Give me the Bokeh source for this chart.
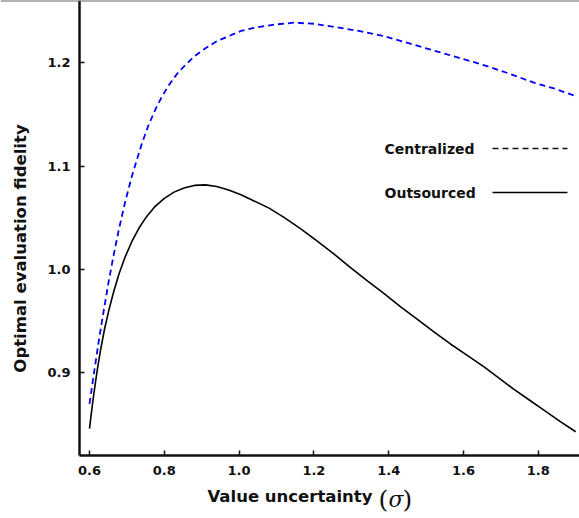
from bokeh.plotting import figure
from bokeh.models import ColumnDataSource, FixedTicker, PrintfTickFormatter, Label, Span, Arrow
from bokeh.embed import file_html
from bokeh.resources import INLINE

# Optimal evaluation fidelity as a function of value uncertainty (sigma)
sigma_outsourced = [0.600, 0.606, 0.612, 0.620, 0.629, 0.640, 0.652, 0.665, 0.679, 0.695,
                    0.713, 0.732, 0.752, 0.775, 0.800, 0.826, 0.853, 0.880, 0.910, 0.940,
                    0.972, 1.005, 1.040, 1.080, 1.120, 1.165, 1.209, 1.254, 1.298, 1.343,
                    1.387, 1.432, 1.476, 1.520, 1.565, 1.610, 1.654, 1.695, 1.735, 1.775,
                    1.815, 1.858, 1.900]
fidelity_outsourced = [0.846, 0.864, 0.881, 0.901, 0.921, 0.942, 0.961, 0.979, 0.996, 1.012,
                       1.027, 1.040, 1.051, 1.061, 1.069, 1.075, 1.079, 1.0815, 1.082, 1.0805,
                       1.077, 1.0725, 1.0665, 1.0595, 1.0505, 1.0395, 1.0275, 1.015, 1.002, 0.989,
                       0.977, 0.964, 0.952, 0.940, 0.928, 0.917, 0.906, 0.895, 0.884, 0.874,
                       0.864, 0.853, 0.843]

sigma_centralized = [0.600, 0.612, 0.624, 0.637, 0.651, 0.664, 0.678, 0.695, 0.713, 0.740,
                     0.757, 0.776, 0.793, 0.811, 0.833, 0.856, 0.882, 0.909, 0.940, 0.972,
                     1.005, 1.040, 1.090, 1.146, 1.200, 1.253, 1.320, 1.387, 1.455, 1.521,
                     1.588, 1.654, 1.720, 1.788, 1.845, 1.900]
fidelity_centralized = [0.870, 0.900, 0.929, 0.958, 0.988, 1.013, 1.038, 1.065, 1.090, 1.122,
                        1.139, 1.155, 1.167, 1.178, 1.189, 1.198, 1.207, 1.214, 1.221, 1.226,
                        1.231, 1.234, 1.237, 1.239, 1.238, 1.235, 1.231, 1.226, 1.219, 1.212,
                        1.205, 1.198, 1.190, 1.181, 1.175, 1.168]

x_ticks = [0.6, 0.8, 1.0, 1.2, 1.4, 1.6, 1.8]
y_ticks = [0.9, 1.0, 1.1, 1.2]

series_names = ["Centralized", "Outsourced"]

FONT = "DejaVu Sans"

# axes box corners (data units); the frame covers the whole canvas so the
# axis titles can sit outside the box as ordinary labels
X0, X1 = 0.57326, 1.91016
Y0, Y1 = 0.82003, 1.2605

p = figure(width=579, height=518, output_backend="svg", toolbar_location=None,
           x_range=(0.36203, X1), y_range=(0.75905, Y1),
           min_border=0, min_border_left=0, min_border_right=0,
           min_border_top=0, min_border_bottom=0)
p.grid.visible = False
p.outline_line_color = None
p.background_fill_color = "white"
p.border_fill_color = "white"

src_c = ColumnDataSource(dict(x=sigma_centralized, y=fidelity_centralized))
src_o = ColumnDataSource(dict(x=sigma_outsourced, y=fidelity_outsourced))
p.line("x", "y", source=src_c, line_color="#0000ff", line_width=1.8, line_dash="6 4",
       line_join="round")
p.line("x", "y", source=src_o, line_color="black", line_width=1.6, line_join="round")

p.xaxis.fixed_location = Y0
p.yaxis.fixed_location = X0
p.xaxis.bounds = (X0, X1)
p.yaxis.bounds = (Y0, Y1)

for ax in (p.xaxis[0], p.yaxis[0]):
    ax.axis_line_width = 2.5
    ax.axis_line_color = "#111111"
    ax.major_tick_in = 5
    ax.major_tick_out = 0
    ax.major_tick_line_width = 1.5
    ax.major_tick_line_color = "#111111"
    ax.minor_tick_line_color = None
    ax.major_label_text_font = FONT
    ax.major_label_text_font_style = "bold"
    ax.major_label_text_font_size = "13px"
    ax.major_label_text_color = "#111111"
    ax.formatter = PrintfTickFormatter(format="%.1f")

p.xaxis.ticker = FixedTicker(ticks=x_ticks)
p.yaxis.ticker = FixedTicker(ticks=y_ticks)
p.xaxis.major_label_standoff = 10
p.yaxis.major_label_standoff = 9

# thin edge along the top
p.add_layout(Span(location=Y1, dimension="width", line_color="#666666", line_width=2))

# axis titles
p.add_layout(Label(x=0.41551, y=1.02042, text="Optimal evaluation fidelity", angle=1.5708,
                   text_font=FONT, text_font_style="bold", text_font_size="16.5px",
                   text_align="center", text_baseline="middle", text_color="#111111"))
p.add_layout(Label(x=0.91551, y=0.78035, text="Value uncertainty",
                   text_font=FONT, text_font_style="bold", text_font_size="16.5px",
                   text_align="left", text_baseline="middle", text_color="#111111"))
# "(σ)": upright parentheses around an italic sigma
for txt, lx, style, size in [("(", 1.37273, "normal", "25px"),
                             ("σ", 1.39947, "italic", "22px"),
                             (")", 1.43690, "normal", "25px")]:
    p.add_layout(Label(x=lx, y=0.77744, text=txt, text_font="DejaVu Serif",
                       text_font_style=style, text_font_size=size,
                       text_align="left", text_baseline="middle", text_color="#111111"))

# legend: label on the left, line sample on the right
legend_rows = [(series_names[0], 1.1172, "#111111", "6 4"),
               (series_names[1], 1.0746, "black", "solid")]
for name, ly, col, dash in legend_rows:
    p.add_layout(Label(x=1.3888, y=ly, text=name, text_font=FONT, text_font_style="bold",
                       text_font_size="14px", text_align="left", text_baseline="middle",
                       text_color="#111111"))
    p.add_layout(Arrow(x_start=1.6775, y_start=ly, x_end=1.878, y_end=ly, end=None,
                       line_color=col, line_width=1.5, line_dash=dash))

open("out.html", "w").write(file_html(p, INLINE))
